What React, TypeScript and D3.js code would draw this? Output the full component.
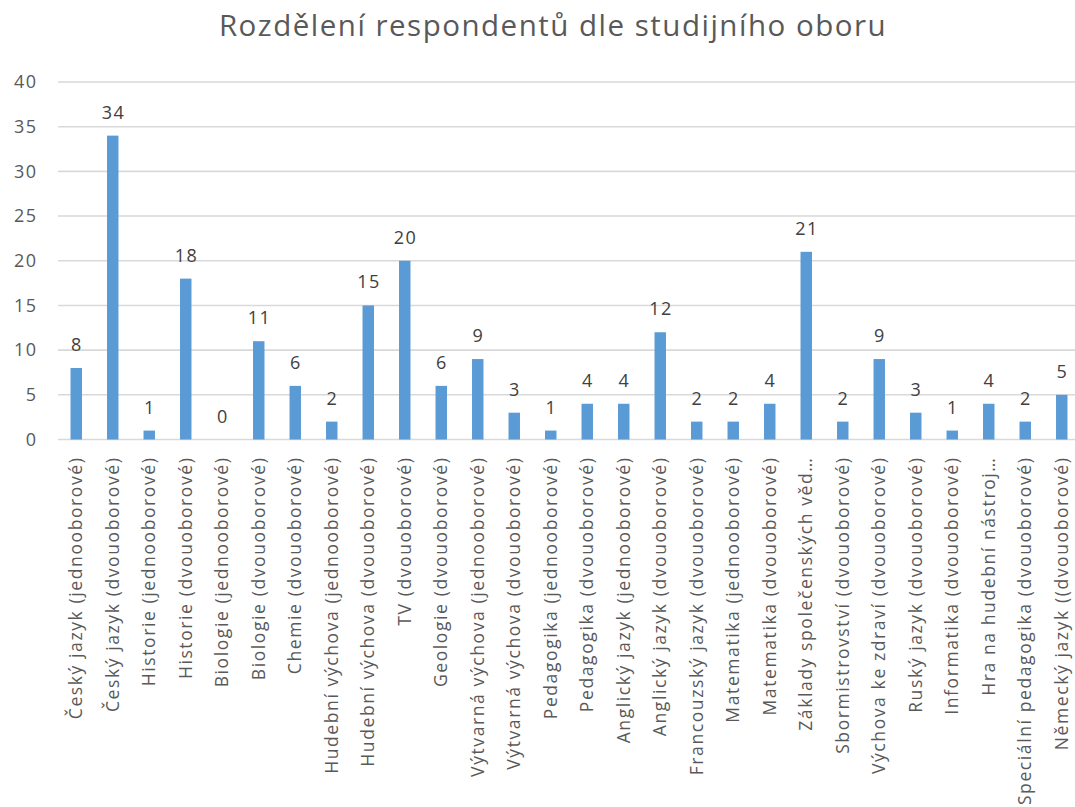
import React from "react";
import * as d3 from "d3";

const title = "Rozdělení respondentů dle studijního oboru";
const categories = [
  "Český jazyk (jednooborové)",
  "Český jazyk (dvouoborové)",
  "Historie (jednooborové)",
  "Historie (dvouoborové)",
  "Biologie (jednooborové)",
  "Biologie (dvouoborové)",
  "Chemie (dvouoborové)",
  "Hudební výchova (jednooborové)",
  "Hudební výchova (dvouoborové)",
  "TV (dvouoborové)",
  "Geologie (dvouoborové)",
  "Výtvarná výchova (jednooborové)",
  "Výtvarná výchova (dvouoborové)",
  "Pedagogika (jednooborové)",
  "Pedagogika (dvouoborové)",
  "Anglický jazyk (jednooborové)",
  "Anglický jazyk (dvouoborové)",
  "Francouzský jazyk (dvouoborové)",
  "Matematika (jednooborové)",
  "Matematika (dvouoborové)",
  "Základy společenských věd…",
  "Sbormistrovství (dvouoborové)",
  "Výchova ke zdraví (dvouoborové)",
  "Ruský jazyk (dvouoborové)",
  "Informatika (dvouoborové)",
  "Hra na hudební nástroj…",
  "Speciální pedagogika (dvouoborové)",
  "Německý jazyk ((dvouoborové)",
];
const values = [8, 34, 1, 18, 0, 11, 6, 2, 15, 20, 6, 9, 3, 1, 4, 4, 12, 2, 2, 4, 21, 2, 9, 3, 1, 4, 2, 5];
const yTicks = [0, 5, 10, 15, 20, 25, 30, 35, 40];

const W = 1075;
const H = 807;
const left = 58;
const right = 1080;
const top = 82;
const bottom = 439.5;
const textColor = "#595959";
const font = "'Open Sans', 'DejaVu Sans', sans-serif";

export default function App() {
  const x = d3.scaleBand<string>().domain(categories).range([left, right]).paddingInner(0.686).paddingOuter(0.343);
  const y = d3.scaleLinear().domain([0, 40]).range([bottom, top]);
  const bw = x.bandwidth();

  return (
    <div style={{ position: "fixed", left: 0, top: 0, width: W, height: H, background: "#fff" }}>
      <svg width={W} height={H} style={{ display: "block" }} fontFamily={font}>
        <rect width={W} height={H} fill="#fff" />
        <text x={553} y={36} textAnchor="middle" fontSize={29.5} letterSpacing={1.5} fill={textColor}>
          {title}
        </text>
        {yTicks.map((t) => (
          <g key={t}>
            <line x1={left} x2={W} y1={y(t)} y2={y(t)} stroke="#D9D9D9" strokeWidth={1.6} />
            <text x={37.5} y={y(t)} dy="0.35em" textAnchor="end" fontSize={18} letterSpacing={1.5} fill={textColor}>
              {t}
            </text>
          </g>
        ))}
        {categories.map((c, i) => {
          const cx = (x(c) as number) + bw / 2;
          const v = values[i];
          return (
            <g key={c}>
              <rect x={x(c)} y={y(v)} width={bw} height={bottom - y(v)} fill="#5B9BD5" />
              <text x={cx + 0.75} y={y(v) - 17} textAnchor="middle" fontSize={18} letterSpacing={1.5} fill="#404040">
                {v}
              </text>
              <text
                transform={`translate(${cx},${bottom + 17}) rotate(-90)`}
                textAnchor="end"
                dy="0.35em"
                fontSize={17.5}
                letterSpacing={1.6}
                fill={textColor}
              >
                {c}
              </text>
            </g>
          );
        })}
      </svg>
    </div>
  );
}
